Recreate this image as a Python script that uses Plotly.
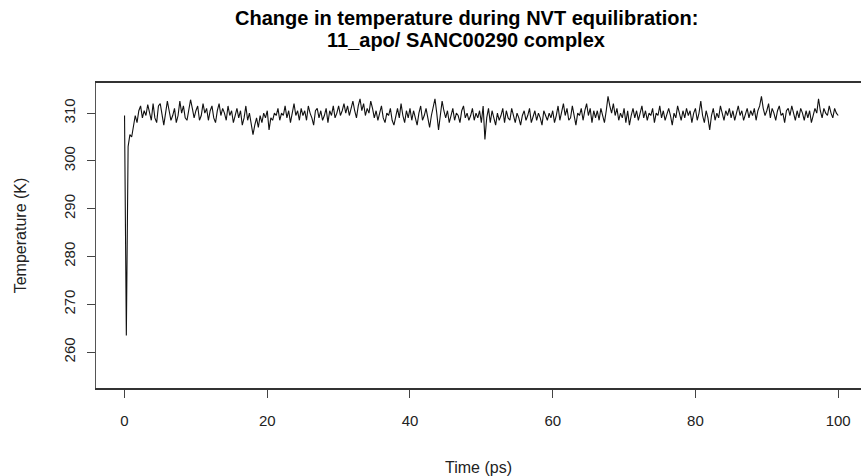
import numpy as np
import plotly.graph_objects as go

# Time step 0.25 ps, 0..100 ps
time_ps = [round(i * 0.25, 2) for i in range(401)]

temperature_k = [
    309.5, 263.5, 303.0, 305.5, 305.0, 307.5, 309.5, 308.0, 310.5, 311.5, 309.0, 310.5, 309.5, 311.8, 310.0, 308.5, 312.0, 309.0, 308.0, 311.5,
    312.0, 309.5, 307.5, 310.0, 312.5, 310.5, 308.5, 309.5, 311.0, 308.0, 309.5, 312.5, 310.0, 311.5, 309.0, 308.5, 310.5, 312.8, 311.0, 309.0,
    310.5, 311.5, 308.5, 309.5, 312.0, 310.0, 311.0, 308.5, 310.5, 311.5, 309.0, 308.0, 310.5, 312.0, 309.5, 311.0, 310.0, 308.5, 311.5, 309.5,
    310.5, 308.0, 309.5, 311.0, 309.0, 310.5, 307.5, 309.0, 311.5, 308.5, 310.0, 308.0, 305.5, 307.5, 309.0, 307.0, 309.5, 308.0, 310.0, 309.0,
    310.5, 306.5, 309.0, 308.5, 310.0, 309.5, 311.0, 308.5, 310.0, 309.5, 311.5, 309.0, 310.5, 308.0, 310.0, 312.0, 309.5, 310.5, 308.5, 311.0,
    309.5, 310.5, 308.5, 311.5, 310.0, 309.0, 307.5, 310.5, 311.0, 309.0, 310.5, 308.5, 309.5, 311.0, 308.0, 310.5, 309.5, 311.5, 309.0, 310.0,
    311.5, 309.5, 310.5, 312.0, 310.0, 311.5, 309.5, 311.0, 312.5, 310.5, 309.0, 311.5, 313.0, 310.5, 312.0, 309.5, 311.0, 310.0, 312.5, 311.0,
    309.0, 310.5, 308.5, 310.0, 311.5, 309.0, 308.0, 310.0, 309.5, 311.0, 308.5, 307.5, 309.5, 311.0, 309.0, 312.0, 309.5, 308.0, 310.5, 309.0,
    311.0, 308.5, 310.5, 309.0, 307.5, 310.0, 311.5, 308.5, 309.5, 311.0, 309.0, 307.0, 309.5, 311.5, 313.0, 310.0, 306.5, 309.5, 312.5, 310.5,
    309.0, 310.5, 308.0, 309.5, 311.0, 308.5, 310.0, 309.5, 308.0, 310.5, 311.5, 309.0, 310.0, 308.5, 309.5, 311.0, 308.5, 310.0, 309.0, 310.5,
    308.0, 311.5, 304.5, 309.0, 311.0, 308.0, 310.5, 309.0, 307.5, 310.0, 308.5, 309.5, 311.0, 308.0, 310.5, 309.0, 308.5, 311.0, 309.5, 308.0,
    310.0, 309.0, 307.5, 309.5, 310.5, 308.5, 309.5, 311.0, 308.0, 309.5, 310.5, 308.5, 310.0, 309.0, 307.5, 310.5, 309.5, 308.5, 310.0, 309.0,
    310.5, 308.0, 309.5, 311.5, 308.5, 310.0, 312.0, 309.5, 311.0, 308.5, 309.0, 311.5, 309.0, 307.5, 310.0, 309.5, 311.0, 308.5, 310.5, 312.0,
    309.5, 311.0, 308.0, 310.5, 309.0, 310.5, 308.5, 311.0, 309.5, 308.0, 310.5, 313.5, 311.5, 310.0, 312.0, 309.5, 311.0, 308.5, 310.0, 309.0,
    311.0, 308.0, 310.5, 307.5, 309.5, 311.0, 309.0, 310.5, 308.5, 310.0, 311.5, 309.0, 310.5, 308.5, 310.0, 309.5, 311.0, 308.0, 310.0, 309.5,
    311.5, 309.0, 310.5, 308.5, 310.0, 311.0, 309.5, 307.5, 310.0, 309.0, 311.5, 310.0, 308.5, 310.5, 309.0, 311.0, 309.5, 310.5, 308.0, 310.0,
    311.0, 308.5, 310.0, 312.5, 309.5, 308.0, 310.5, 309.0, 306.5, 309.5, 311.0, 308.5, 310.0, 309.0, 311.5, 310.0, 308.5, 310.5, 309.5, 311.0,
    309.0, 310.5, 308.5, 310.0, 311.5, 309.5, 310.5, 308.5, 310.0, 311.0, 309.0, 310.5, 309.5, 311.0, 308.5, 310.5, 311.5, 313.5, 311.0, 309.5,
    310.5, 312.0, 309.0, 311.0, 310.0, 308.5, 310.5, 311.5, 309.5, 310.0, 308.0, 310.5, 311.0, 309.5, 311.5, 310.0, 308.5, 310.5, 309.0, 311.0,
    310.0, 308.5, 310.5, 309.0, 310.5, 308.0, 309.5, 311.0, 310.0, 313.0, 310.5, 309.0, 311.0, 310.0, 309.5, 311.5, 310.0, 309.0, 311.0, 310.0,
    309.5,
]

x_ticks = [0, 20, 40, 60, 80, 100]
y_ticks = [260, 270, 280, 290, 300, 310]

title_lines = ["Change in temperature during NVT equilibration:", "11_apo/ SANC00290 complex"]

fig = go.Figure()
fig.add_trace(go.Scatter(
    x=time_ps, y=temperature_k, mode="lines",
    line=dict(color="#111", width=1.1),
    showlegend=False, hoverinfo="skip",
))

font_family = "Liberation Sans, Arial, sans-serif"

for i, (line, ypix) in enumerate(zip(title_lines, [18, 40])):
    fig.add_annotation(
        text="<b>" + line + "</b>", xref="paper", yref="paper",
        x=(466 - 96) / (861 - 96), y=(476 - 88 - ypix) / (476 - 83 - 88),
        xanchor="center", yanchor="middle", showarrow=False,
        font=dict(family=font_family, size=20, color="black"),
    )

fig.update_layout(
    width=861, height=476,
    margin=dict(l=96, r=0, t=83, b=88),
    paper_bgcolor="white", plot_bgcolor="white",
    font=dict(family=font_family, size=15, color="#222"),
    hovermode=False,
    xaxis=dict(
        range=[-4, 103.2], tickvals=x_ticks, ticks="outside", ticklen=8,
        tickcolor="#444", tickwidth=1, showgrid=False, zeroline=False,
        showline=True, linecolor="#333", linewidth=1.5, mirror=True,
        ticklabelstandoff=10, automargin=False,
        title=dict(text="Time (ps)", standoff=35, font=dict(size=16)),
        tickfont=dict(size=15),
    ),
    yaxis=dict(
        range=[252.5, 316.3], tickvals=y_ticks, ticks="outside", ticklen=8,
        tickcolor="#444", tickwidth=1, showgrid=False, zeroline=False,
        showline=True, linecolor="#555", linewidth=1, mirror=False,
        tickangle=-90, ticklabelstandoff=6, automargin=False,
        title=dict(text="Temperature (K)", standoff=30, font=dict(size=16)),
        tickfont=dict(size=15),
    ),
)

fig.write_html("out.html", config={"displayModeBar": False},
               post_script="document.body.style.margin='0';")
